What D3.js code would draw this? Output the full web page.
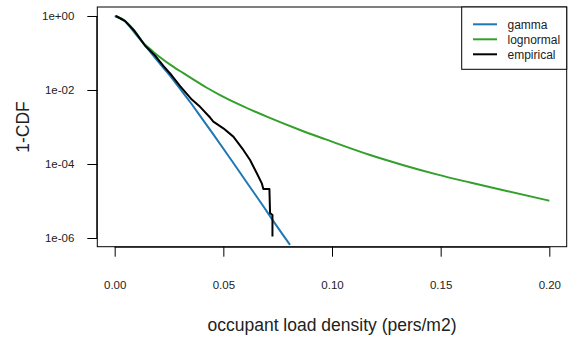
<!DOCTYPE html>
<html>
<head>
<meta charset="utf-8">
<script src="https://cdn.jsdelivr.net/npm/d3@7"></script>
<style>
  body { margin: 0; background: #fff; }
  svg { display: block; }
</style>
</head>
<body>
<div id="chart"></div>
<script>
// Data
const gammaX = [0, 0.0047, 0.0093, 0.0139, 0.0186, 0.0224, 0.0262, 0.0316, 0.0347, 0.0393, 0.0454, 0.0531, 0.0608, 0.0684, 0.0723, 0.0807];
const gammaY = [1, 0.724, 0.347, 0.162, 0.0741, 0.0398, 0.0214, 8.2e-3, 4.73e-3, 2.0e-3, 6.3e-4, 1.43e-4, 3.16e-5, 7.2e-6, 3.3e-6, 6.5e-7];

const lognormalX = [0.0005, 0.0047, 0.0090, 0.0139, 0.0155, 0.0178, 0.0210, 0.0262, 0.0316, 0.0393, 0.0424, 0.0485, 0.0577, 0.070, 0.0853, 0.0968, 0.1175, 0.1329, 0.1482, 0.1636, 0.1789, 0.20];
const lognormalY = [1.0, 0.74, 0.41, 0.17, 0.141, 0.107, 0.0759, 0.0457, 0.0285, 0.0148, 0.0115, 7.3e-3, 3.94e-3, 1.9e-3, 8.3e-4, 4.7e-4, 1.75e-4, 9.3e-5, 5.25e-5, 3.16e-5, 1.95e-5, 1.02e-5];

const empiricalX = [0.0005, 0.0047, 0.0090, 0.0139, 0.0186, 0.0224, 0.0262, 0.0302, 0.0355, 0.0393, 0.0439, 0.0454, 0.050, 0.0546, 0.0592, 0.0623, 0.0654, 0.0677, 0.0684, 0.0712, 0.0715, 0.0726, 0.0726];
const empiricalY = [1.0, 0.74, 0.40, 0.16, 0.085, 0.045, 0.025, 0.0125, 5.5e-3, 3.5e-3, 1.8e-3, 1.39e-3, 9.2e-4, 5.5e-4, 2.4e-4, 1.28e-4, 5.6e-5, 3.0e-5, 2.1e-5, 2.1e-5, 4.7e-6, 4.2e-6, 1.1e-6];

const xTicks = [0, 0.05, 0.10, 0.15, 0.20];
const yTicks = [1, 1e-2, 1e-4, 1e-6];
const yTickLabels = ["1e+00", "1e-02", "1e-04", "1e-06"];

const seriesNames = ["gamma", "lognormal", "empirical"];
const seriesColors = ["#1f78b4", "#33a02c", "#000000"];

// Layout
const width = 571, height = 343;
const box = { left: 97.3, right: 566.7, top: 7, bottom: 246.7 };
const font = "Arial, 'Liberation Sans', sans-serif";
const textColor = "#222";

const x = d3.scaleLinear().domain([-0.008, 0.208]).range([box.left, box.right]);
const y = d3.scaleLog().domain([Math.pow(10, -6.235), Math.pow(10, 0.243)]).range([box.bottom, box.top]);

const svg = d3.select("#chart").append("svg")
  .attr("width", width)
  .attr("height", height)
  .attr("font-family", font);

svg.append("defs").append("clipPath")
  .attr("id", "clip")
  .append("rect")
  .attr("x", box.left).attr("y", box.top)
  .attr("width", box.right - box.left).attr("height", box.bottom - box.top);

// Curves: fitted models smooth, empirical as drawn
const smooth = d3.line()
  .x(d => x(d[0]))
  .y(d => y(d[1]))
  .curve(d3.curveMonotoneX);

const straight = d3.line()
  .x(d => x(d[0]))
  .y(d => y(d[1]));

const series = [
  { pts: d3.zip(gammaX, gammaY), gen: smooth },
  { pts: d3.zip(lognormalX, lognormalY), gen: smooth },
  { pts: d3.zip(empiricalX, empiricalY), gen: straight }
];

svg.append("g")
  .attr("clip-path", "url(#clip)")
  .selectAll("path")
  .data(series)
  .join("path")
  .attr("fill", "none")
  .attr("stroke", (d, i) => seriesColors[i])
  .attr("stroke-width", 2)
  .attr("stroke-linejoin", "round")
  .attr("d", d => d.gen(d.pts));

// Box
svg.append("rect")
  .attr("x", box.left).attr("y", box.top)
  .attr("width", box.right - box.left).attr("height", box.bottom - box.top)
  .attr("fill", "none")
  .attr("stroke", "#000")
  .attr("stroke-width", 1);

// X axis
const xAxis = svg.append("g")
  .attr("transform", `translate(0,${box.bottom})`)
  .call(d3.axisBottom(x).tickValues(xTicks).tickSize(10).tickPadding(24)
    .tickFormat(d3.format(".2f")));
xAxis.select(".domain").attr("d", `M${x(0)},0.5H${x(0.2)}`);
xAxis.selectAll("line").attr("stroke", "#000");
xAxis.selectAll("text")
  .attr("fill", textColor)
  .attr("font-family", font)
  .attr("font-size", "11.5px");

// Y axis
const yAxis = svg.append("g")
  .attr("transform", `translate(${box.left},0)`)
  .call(d3.axisLeft(y).tickValues(yTicks).tickSize(10).tickPadding(13)
    .tickFormat((d, i) => yTickLabels[i]));
yAxis.select(".domain").attr("d", `M-0.5,${y(1)}V${y(1e-6)}`);
yAxis.selectAll("line").attr("stroke", "#000");
yAxis.selectAll("text")
  .attr("fill", textColor)
  .attr("font-family", font)
  .attr("font-size", "11.5px");

// Axis titles
svg.append("text")
  .attr("x", (x(0) + x(0.2)) / 2)
  .attr("y", 331)
  .attr("text-anchor", "middle")
  .attr("fill", textColor)
  .attr("font-size", "17.5px")
  .text("occupant load density (pers/m2)");

svg.append("text")
  .attr("transform", `translate(29,${(y(1) + y(1e-6)) / 2}) rotate(-90)`)
  .attr("text-anchor", "middle")
  .attr("fill", textColor)
  .attr("font-size", "17.5px")
  .text("1-CDF");

// Legend
const legend = svg.append("g");
legend.append("rect")
  .attr("x", 461.7).attr("y", box.top)
  .attr("width", box.right - 461.7).attr("height", 69.3 - box.top)
  .attr("fill", "#fff")
  .attr("stroke", "#000");

const rows = legend.selectAll("g.row")
  .data(seriesNames)
  .join("g")
  .attr("class", "row")
  .attr("transform", (d, i) => `translate(0,${24.3 + i * 15})`);

rows.append("line")
  .attr("x1", 473).attr("x2", 497)
  .attr("stroke", (d, i) => seriesColors[i])
  .attr("stroke-width", 2);

rows.append("text")
  .attr("x", 507.5)
  .attr("dy", "0.35em")
  .attr("fill", textColor)
  .attr("font-size", "12px")
  .text(d => d);
</script>
</body>
</html>
